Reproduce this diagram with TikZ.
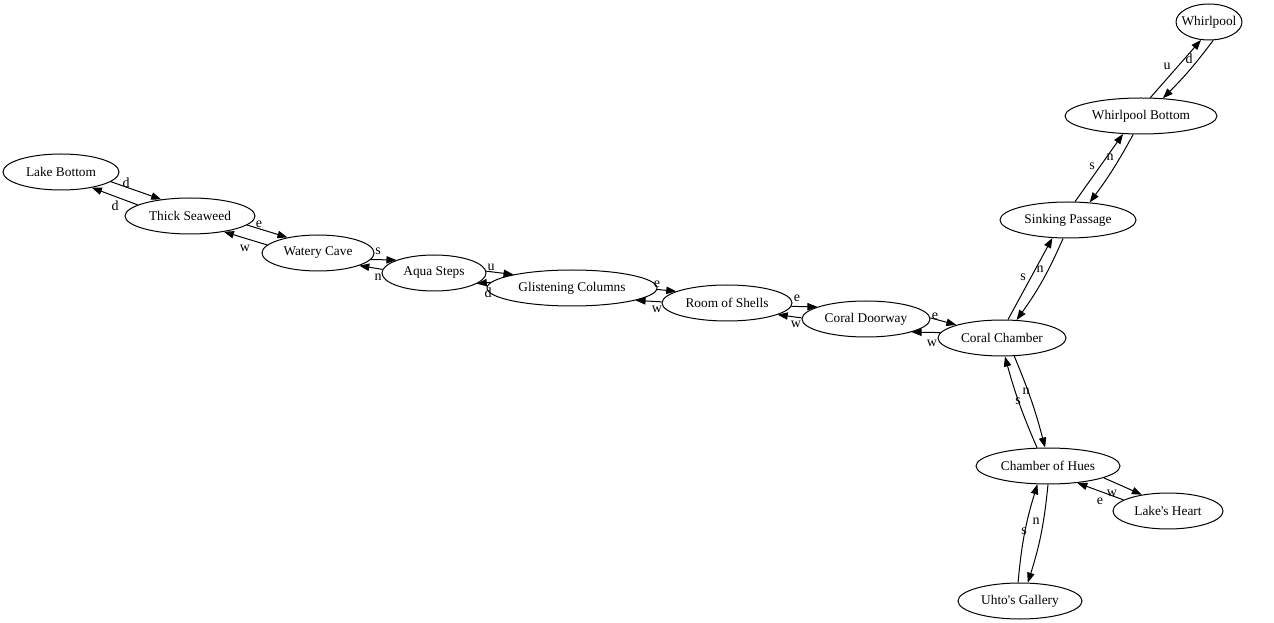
\documentclass[tikz,border=0pt]{standalone}
\usepackage{fontspec}
\setmainfont{Liberation Serif}
\usetikzlibrary{shapes.geometric,arrows.meta}
\begin{document}
\begin{tikzpicture}[x=0.75pt,y=-0.75pt,
  room/.style={ellipse,draw,line width=0.75pt,minimum height=27pt,inner sep=0pt,font=\fontsize{10.5}{12.5}\selectfont},
  link/.style={line width=0.75pt,-{Triangle[length=7.5pt,width=5.5pt]}},
  lbl/.style={font=\fontsize{10.5}{12.5}\selectfont,inner sep=0pt}]
\useasboundingbox (0,0) rectangle (1274,623);
% rooms
\node[room,minimum width=87pt,label=center:{Lake Bottom}] (lb) at (61,172) {};
\node[room,minimum width=97.5pt,label=center:{Thick Seaweed}] (ts) at (190,216) {};
\node[room,minimum width=84pt,label=center:{Watery Cave}] (wc) at (318,253) {};
\node[room,minimum width=78pt,label=center:{Aqua Steps}] (as) at (434,273) {};
\node[room,minimum width=127.5pt,label=center:{Glistening Columns}] (gc) at (572,288) {};
\node[room,minimum width=97.5pt,label=center:{Room of Shells}] (rs) at (727,303) {};
\node[room,minimum width=96pt,label=center:{Coral Doorway}] (cd) at (866,319) {};
\node[room,minimum width=96pt,label=center:{Coral Chamber}] (cc) at (1002,338) {};
\node[room,minimum width=102pt,label=center:{Sinking Passage}] (sp) at (1068,220) {};
\node[room,minimum width=114pt,label=center:{Whirlpool Bottom}] (wb) at (1141,116) {};
\node[room,minimum width=49.5pt,label=center:{Whirlpool}] (w) at (1209,22) {};
\node[room,minimum width=108pt,label=center:{Chamber of Hues}] (ch) at (1048,466) {};
\node[room,minimum width=82.5pt,label=center:{Lake\textquotesingle s Heart}] (lh) at (1168,511) {};
\node[room,minimum width=93pt,label=center:{Uhto\textquotesingle s Gallery}] (ug) at (1020,601) {};
% connectors
\draw[link] (lb.-11.5) -- (ts.150);
\node[lbl] at (126,183) {d};
\draw[link] (ts.168) -- (lb.-27);
\node[lbl] at (115,206) {d};
\draw[link] (ts.-9) -- (wc.153);
\node[lbl] at (259,224) {e};
\draw[link] (wc.171) -- (ts.-25);
\node[lbl] at (245,248) {w};
\draw[link] (wc.-7) -- (as.161);
\node[lbl] at (378,251) {s};
\draw[link] (as.176) -- (wc.-17);
\node[lbl] at (378,277) {n};
\draw[link] (as.2) -- (gc.167);
\node[lbl] at (491,267) {u};
\draw[link] (gc.176) -- (as.-14);
\node[lbl] at (488,293) {d};
\draw[link] (gc.-1) -- (rs.167);
\node[lbl] at (657,284) {e};
\draw[link] (rs.179) -- (gc.-11);
\node[lbl] at (657,309) {w};
\draw[link] (rs.-3) -- (cd.166);
\node[lbl] at (797,298) {e};
\draw[link] (cd.179) -- (rs.-13.5);
\node[lbl] at (796,324) {w};
\draw[link] (cd.1) -- (cc.164);
\node[lbl] at (935,316) {e};
\draw[link] (cc.175) -- (cd.-16);
\node[lbl] at (932,343) {w};
\draw[link] (cc.72) -- (sp.-131);
\node[lbl] at (1023,277) {s};
\draw[link] (sp.-105) to[bend left=6] (cc.51);
\node[lbl] at (1040,269) {n};
\draw[link] (cc.-56) to[bend left=4] (ch.99);
\node[lbl] at (1026,391) {n};
\draw[link] (ch.121) to[bend left=4] (cc.-81);
\node[lbl] at (1018,401) {s};
\draw[link] (sp.69) -- (wb.-135);
\node[lbl] at (1092,166) {s};
\draw[link] (wb.-113) to[bend left=4] (sp.39);
\node[lbl] at (1110,157) {n};
\draw[link] (wb.63) -- (w.-114);
\node[lbl] at (1167,66) {u};
\draw[link] (w.-77) to[bend left=4] (wb.39);
\node[lbl] at (1189,59) {d};
\draw[link] (ch.-12.5) -- (lh.148);
\node[lbl] at (1100,501) {e};
\draw[link] (lh.166) -- (ch.-30);
\node[lbl] at (1112,493) {w};
\draw[link] (ch.-90) to[bend left=6] (ug.67);
\node[lbl] at (1036,521) {n};
\draw[link] (ug.96) to[bend left=6] (ch.-120);
\node[lbl] at (1024,531) {s};
\end{tikzpicture}
\end{document}
